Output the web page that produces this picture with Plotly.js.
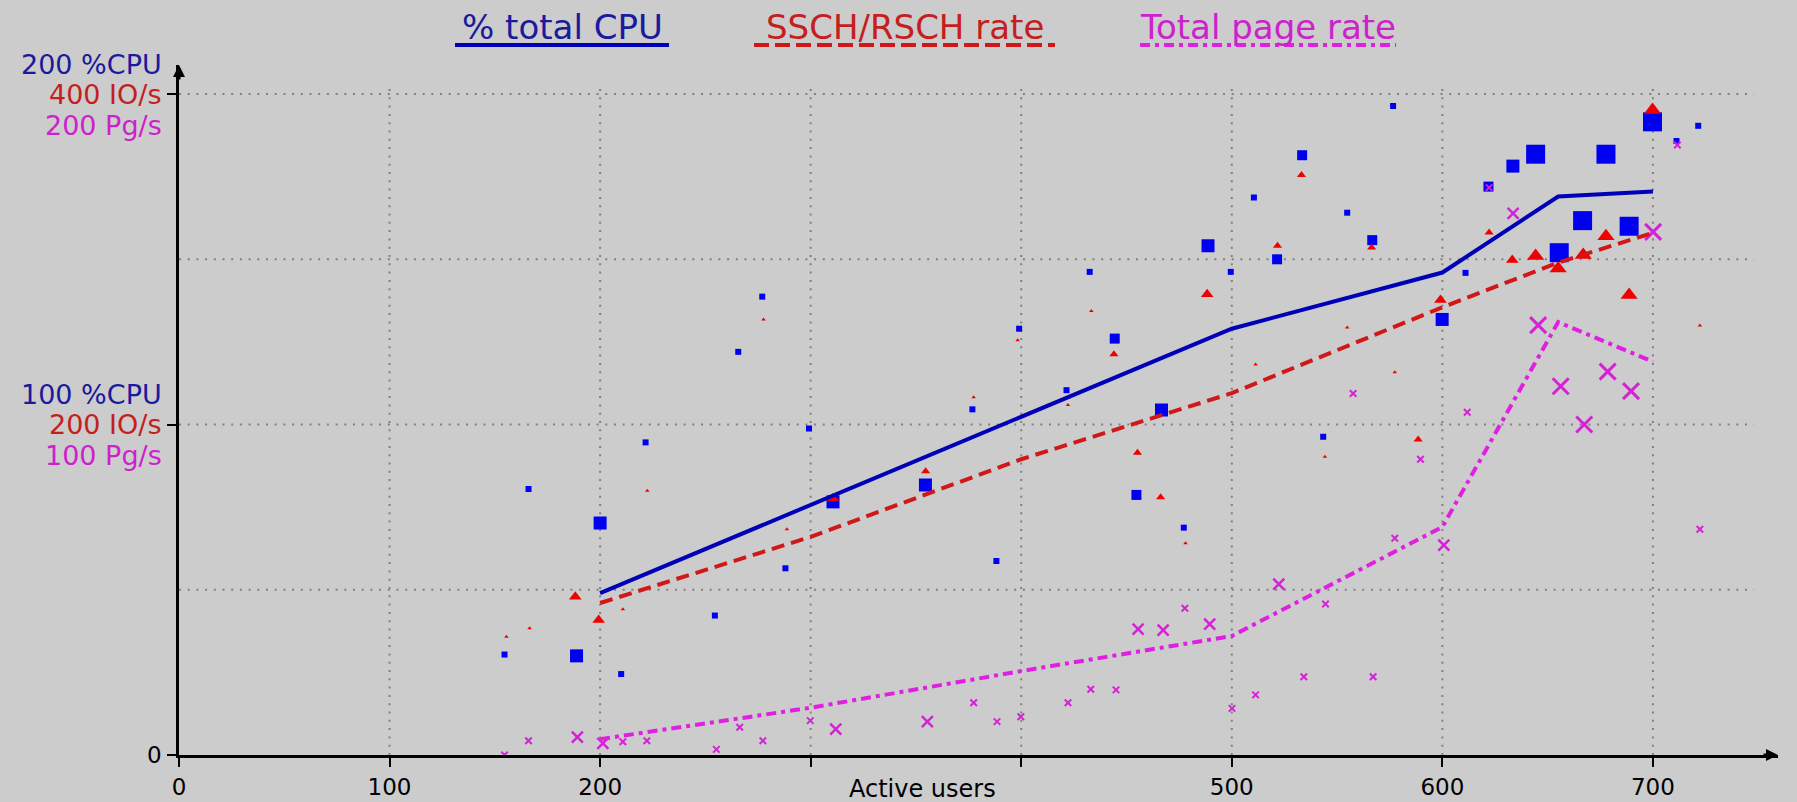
<!DOCTYPE html>
<html><head><meta charset="utf-8">
<script src="https://cdn.plot.ly/plotly-3.0.1.min.js"></script>
<style>html,body{margin:0;padding:0;background:#cccccc;} #chart{width:1797px;height:802px;}</style>
</head><body><div id="chart"></div>
<script>
// ---------------- data ----------------
const seriesNames = ['% total CPU', 'SSCH/RSCH rate', 'Total page rate'];

// % total CPU samples (active users, %CPU, sample weight class)
const cpuUsers = [154.6,166,188.8,200,210,221.6,254.5,265.6,277,288,299.2,310.6,354.5,376.8,388.2,399,421.5,432.5,444.4,454.7,466.6,477.2,488.7,499.5,510.5,521.5,533.4,543.4,554.8,566.7,576.6,599.9,611,621.9,633.5,644.3,655.5,666.6,677.7,688.7,699.8,711.2,721.5];
const cpuPct   = [30.4,80.5,30,70.2,24.5,94.6,42.2,122,138.7,56.5,98.8,76.6,81.7,104.6,58.7,129,110.4,146.2,126,78.7,104.4,68.8,154.1,146.2,168.7,150,181.5,96.3,164.1,155.8,196.4,131.8,145.9,172,178.2,181.8,152,161.7,181.8,160,191.6,185.8,190.4];
const cpuWeight= [1,1,3,3,1,1,1,1,1,1,1,3,3,1,1,1,1,1,2,2,3,1,3,1,1,2,2,1,1,2,1,3,1,2,3,4,4,4,4,4,4,1,1];

// SSCH/RSCH rate samples (active users, IO/s, weight class)
const ioUsers = [155.5,166.5,188.2,199.3,210.8,222.4,277.6,288.7,310.6,354.6,377.4,398.3,422.2,433.3,444,455.2,466.2,478,488.3,511.3,521.7,533.1,544.2,554.8,566.4,577.4,588.5,599.1,622.2,633.2,644.3,655,666.9,677.7,688.7,699.8,722.3];
const ioRate  = [71.6,76.7,95.8,81.7,88.2,160,263.6,136.6,155.3,171.8,216.5,251,211.8,268.7,242.5,183,156,128.1,278.8,236.4,308.2,351,180.5,258.8,307.2,231.6,191,275.4,316.3,299.6,302,294.5,302.6,314,278.4,390.3,260];
const ioWeight= [0,0,2,2,0,0,0,0,2,1,0,0,0,0,1,1,1,0,2,0,1,1,0,0,1,0,1,2,1,2,3,3,3,3,3,3,0];

// Total page rate samples (active users, Pg/s, weight class)
const pageUsers = [154.6,166,189.2,201.3,210.8,222.2,255.2,266.3,277.3,299.8,311.9,355.4,377.4,388.5,399.8,422.2,433,445,455.5,467.4,477.7,489.5,500.1,511.3,522.3,534.2,544.5,557.6,567.1,577.4,589.6,600.7,611.8,622.2,633.6,645.5,656.2,667.4,678.5,689.6,700.1,711.6,722.3];
const pageRate  = [0,4.3,5.4,3.5,4,4.3,1.7,8.4,4.3,10.4,7.8,10.1,15.8,10.1,11.6,15.8,19.9,19.7,38.1,37.8,44.4,39.6,14.1,18.2,51.7,23.7,45.7,109.4,23.7,65.6,89.5,63.5,103.7,171.7,163.9,130.1,111.6,100,116,110.1,158.3,184.6,68.3];
const pageWeight= [1,1,2,2,1,1,1,1,1,1,2,2,1,1,1,1,1,1,2,2,1,2,1,1,2,1,1,1,1,1,1,2,1,1,2,3,3,3,3,3,3,1,1];

// smoothed trend lines
const trendUsers = [200,300,400,500,600,655,700];
const trendCpu   = [49,75.6,102.3,129,146,169,170.5];
const trendIo    = [92,132,179,219,271,298,316];
const trendPage  = [4.8,14.3,25.4,36,69,131,119];

// axes
const xTickVals = [0,100,200,300,400,500,600,700];
const xTickText = ['0','100','200','','','500','600','700'];
const xTitle = 'Active users';
const yLevels = [100,200];          // %CPU
const ioPerCpu = 2;                 // 200 %CPU <-> 400 IO/s
const pgPerCpu = 1;                 // 200 %CPU <-> 200 Pg/s

// ---------------- styling ----------------
const FONT = 'DejaVu Sans';
const BLUE_M = '#0000f0', BLUE_L = '#0000b8', BLUE_T = '#1a1a9c';
const RED_M = '#f00000', RED_L = '#d01818', RED_T = '#c41e1e';
const MAG_M = '#d622d6', MAG_L = '#e020e0', MAG_T = '#cc22cc';
const GRID = '#808080';
const sqSize = {1:6, 2:10, 3:13, 4:19};
const triSize = {0:4, 1:8, 2:11, 3:15};
const xSize = {1:6.5, 2:11, 3:16};
const xLW = {1:2, 2:2.5, 3:3};

const W = 1797, H = 802;
const M = {l:179, r:19, t:65, b:47};
const XMAX = 759.4, YMAX = 208.8;
const PW = W - M.l - M.r, PH = H - M.t - M.b;
const px2x = px => (px - M.l) / PW;   // pixel -> paper
const py2y = py => (H - M.b - py) / PH;

const traces = [
  {x: cpuUsers, y: cpuPct, type:'scatter', mode:'markers',
   marker:{symbol:'square', color:BLUE_M, opacity:1, size:cpuWeight.map(w=>sqSize[w]), line:{width:0}}},
  {x: ioUsers, y: ioRate.map(v=>v/ioPerCpu), type:'scatter', mode:'markers',
   marker:{symbol:'triangle-up', color:RED_M, opacity:1, size:ioWeight.map(w=>triSize[w]), line:{width:0}}},
  {x: pageUsers, y: pageRate.map(v=>v/pgPerCpu), type:'scatter', mode:'markers',
   marker:{symbol:'x-thin-open', color:MAG_M, opacity:1, size:pageWeight.map(w=>xSize[w]), line:{width:pageWeight.map(w=>xLW[w]), color:MAG_M}}},
  {x: trendUsers, y: trendCpu, type:'scatter', mode:'lines', name:seriesNames[0],
   line:{color:BLUE_L, width:4}},
  {x: trendUsers, y: trendIo.map(v=>v/ioPerCpu), type:'scatter', mode:'lines', name:seriesNames[1],
   line:{color:RED_L, width:4, dash:'13px,7px'}},
  {x: trendUsers, y: trendPage.map(v=>v/pgPerCpu), type:'scatter', mode:'lines', name:seriesNames[2],
   line:{color:MAG_L, width:4, dash:'10px,5px,4px,5px'}}
];

const shapes = [];
[50,100,150,200].forEach(v => shapes.push({type:'line', layer:'below', xref:'x', yref:'y',
  x0:0, x1:748, y0:v, y1:v, line:{color:GRID, width:2, dash:'2px,6.7px'}}));
[100,200,300,400,500,600,700].forEach(v => shapes.push({type:'line', layer:'below', xref:'x', yref:'y',
  x0:v, x1:v, y0:0, y1:202, line:{color:GRID, width:2, dash:'2px,6.3px'}}));

// legend (text with styled underline)
const legend = [
  {name:seriesNames[0], c:BLUE_T, lc:BLUE_L, x0:455, x1:669, dash:'solid'},
  {name:seriesNames[1], c:RED_T, lc:RED_L, x0:754, x1:1055, dash:'15px,6px'},
  {name:seriesNames[2], c:MAG_T, lc:MAG_L, x0:1140, x1:1396, dash:'10px,5px,4px,5px'}
];
const annotations = [];
legend.forEach(L => {
  annotations.push({xref:'paper', yref:'paper', x:px2x((L.x0+L.x1)/2), y:py2y(27), xanchor:'center', yanchor:'middle',
    text:L.name, showarrow:false, font:{family:FONT, size:34, color:L.c}});
  shapes.push({type:'line', xref:'paper', yref:'paper', x0:px2x(L.x0), x1:px2x(L.x1), y0:py2y(45), y1:py2y(45),
    line:{color:L.lc, width:4, dash:L.dash}});
});

// multi-unit y labels
yLevels.forEach(v => {
  const lines = [
    {t: v + ' %CPU', c: BLUE_T, s: 30},
    {t: (v*ioPerCpu) + ' IO/s', c: RED_T, s: 0},
    {t: (v*pgPerCpu) + ' Pg/s', c: MAG_T, s: -31}
  ];
  lines.forEach(l => annotations.push({xref:'paper', yref:'y', x:px2x(164), y:v, yshift:l.s,
    xanchor:'right', yanchor:'middle', text:l.t, showarrow:false, font:{family:FONT, size:27, color:l.c}}));
});
annotations.push({xref:'paper', yref:'y', x:px2x(164), y:0, xanchor:'right', yanchor:'middle', text:'0',
  showarrow:false, font:{family:FONT, size:23, color:'#000'}});
// x axis title
annotations.push({xref:'paper', yref:'paper', x:px2x(922), y:py2y(789), xanchor:'center', yanchor:'middle',
  text:xTitle, showarrow:false, font:{family:FONT, size:24, color:'#000'}});
// axis arrows
annotations.push({xref:'x', yref:'y', x:XMAX, y:0, ax:-16, ay:0, text:'', showarrow:true,
  arrowhead:2, arrowsize:0.8, arrowwidth:3, arrowcolor:'#000', standoff:0});
annotations.push({xref:'x', yref:'y', x:0, y:YMAX, ax:0, ay:16, text:'', showarrow:true,
  arrowhead:2, arrowsize:0.8, arrowwidth:3, arrowcolor:'#000', standoff:0});

const layout = {
  width:W, height:H, margin:M, showlegend:false,
  paper_bgcolor:'#cccccc', plot_bgcolor:'#cccccc',
  font:{family:FONT, color:'#000'},
  xaxis:{range:[0,XMAX], tickmode:'array', tickvals:xTickVals, ticktext:xTickText,
    showgrid:false, zeroline:false, showline:true, linecolor:'#000', linewidth:3,
    ticks:'outside', ticklen:9, tickwidth:2, tickcolor:'#000',
    tickfont:{family:FONT, size:23, color:'#000'}, automargin:false, fixedrange:true},
  yaxis:{range:[0,YMAX], tickmode:'array', tickvals:[0,100,200], showticklabels:false,
    showgrid:false, zeroline:false, showline:true, linecolor:'#000', linewidth:3,
    ticks:'outside', ticklen:9, tickwidth:2, tickcolor:'#000', automargin:false, fixedrange:true},
  shapes:shapes, annotations:annotations
};
Plotly.newPlot('chart', traces, layout, {staticPlot:true});
</script></body></html>
